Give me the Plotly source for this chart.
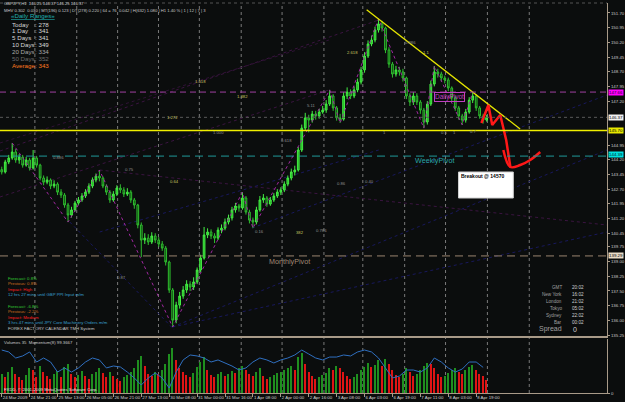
import plotly.graph_objects as go

# ---------------- data ----------------
first_open = 143.70
close = [143.58, 144.09, 144.29, 144.60, 144.19, 144.34, 143.93, 144.19, 143.78, 144.29,
         143.93, 143.27, 143.06, 143.17, 142.86, 142.96, 142.55, 142.40, 141.89, 141.38,
         141.64, 141.99, 142.15, 142.35, 142.55, 142.86, 143.17, 143.37, 143.27, 142.86,
         142.55, 142.15, 142.45, 142.76, 142.66, 142.45, 142.55, 142.15, 141.89, 140.87,
         140.10, 140.20, 140.00, 140.31, 140.10, 139.90, 139.69, 138.98, 137.55, 136.01,
         136.78, 137.24, 137.55, 137.85, 137.70, 137.96, 138.57, 139.18, 140.36, 140.51,
         140.31, 140.20, 140.61, 140.71, 141.02, 141.23, 141.64, 141.84, 141.74, 142.25,
         141.53, 141.12, 141.02, 141.64, 142.15, 142.25, 141.94, 142.15, 142.35, 142.55,
         142.66, 142.96, 143.27, 143.58, 143.68, 144.70, 145.82, 146.34, 146.23, 146.54,
         146.44, 146.64, 146.74, 147.05, 147.46, 146.85, 146.34, 146.28, 147.46, 147.66,
         147.46, 147.77, 148.17, 148.79, 149.50, 150.12, 150.32, 150.83, 151.14, 150.93,
         149.81, 149.09, 148.58, 148.79, 148.69, 148.38, 147.46, 147.15, 147.46, 147.15,
         146.74, 146.13, 147.05, 148.07, 148.69, 148.58, 148.38, 148.28, 147.87, 147.36,
         146.85, 146.44, 146.23, 146.64, 147.25, 147.46, 146.85, 146.44, 146.23, 146.37]
high = [143.85, 144.20, 144.45, 145.06, 144.75, 144.50, 144.45, 144.35, 144.30, 144.70,
        144.40, 144.00, 143.40, 143.35, 143.25, 143.15, 143.05, 142.70, 142.50, 142.00,
        141.80, 142.10, 142.30, 142.50, 142.70, 143.00, 143.30, 143.50, 143.68, 143.35,
        142.95, 142.65, 142.60, 142.90, 142.95, 142.80, 142.75, 142.65, 142.25, 141.95,
        141.00, 140.45, 140.40, 140.50, 140.45, 140.25, 140.05, 139.80, 139.05, 137.65,
        136.95, 137.45, 137.75, 138.05, 138.00, 138.20, 138.70, 139.35, 140.77, 140.70,
        140.65, 140.45, 140.75, 140.90, 141.20, 141.40, 141.80, 142.00, 141.95, 142.55,
        142.35, 141.65, 141.25, 141.80, 142.35, 142.45, 142.35, 142.30, 142.50, 142.70,
        142.80, 143.10, 143.40, 143.75, 143.90, 144.85, 146.00, 146.60, 146.50, 146.70,
        146.70, 146.80, 146.95, 147.25, 147.77, 147.55, 146.95, 146.55, 147.65, 147.90,
        147.80, 147.95, 148.35, 148.95, 149.70, 150.30, 150.55, 151.00, 151.40, 151.30,
        151.00, 149.95, 149.20, 149.00, 148.95, 148.85, 148.45, 147.60, 147.65, 147.60,
        147.25, 146.85, 147.20, 148.25, 148.99, 148.85, 148.70, 148.50, 148.40, 147.95,
        147.45, 146.95, 146.55, 146.80, 147.40, 147.66, 147.55, 146.95, 146.55, 146.50]
low = [143.45, 143.50, 143.98, 144.20, 144.05, 144.00, 143.80, 143.85, 143.65, 143.70,
       143.80, 143.15, 142.90, 142.95, 142.70, 142.75, 142.40, 142.25, 141.75, 141.02,
       141.25, 141.55, 141.90, 142.05, 142.25, 142.45, 142.75, 143.05, 143.10, 142.75,
       142.40, 142.00, 142.05, 142.35, 142.50, 142.30, 142.35, 142.00, 141.70, 140.70,
       139.23, 139.90, 139.85, 139.90, 139.95, 139.75, 139.55, 138.80, 137.40, 135.66,
       135.85, 136.60, 137.10, 137.40, 137.50, 137.55, 137.85, 138.45, 139.10, 140.20,
       140.15, 139.95, 140.10, 140.45, 140.60, 140.90, 141.10, 141.50, 141.55, 141.65,
       141.40, 140.95, 140.71, 140.90, 141.55, 142.00, 141.80, 141.85, 142.05, 142.25,
       142.40, 142.55, 142.85, 143.15, 143.40, 143.60, 144.60, 145.70, 145.60, 146.10,
       146.25, 146.30, 146.55, 146.60, 146.95, 146.70, 146.20, 146.08, 146.20, 147.30,
       147.30, 147.35, 147.65, 148.05, 148.65, 149.40, 150.00, 150.20, 150.70, 150.75,
       149.65, 148.90, 148.40, 148.45, 148.50, 148.20, 147.30, 146.95, 147.00, 147.00,
       146.55, 145.82, 146.00, 146.95, 147.95, 148.40, 148.20, 148.10, 147.70, 147.20,
       146.70, 146.25, 145.98, 146.10, 146.55, 147.10, 146.70, 146.30, 146.05, 146.15]
volume = [620, 540, 700, 880, 640, 520, 450, 600, 820, 760, 540, 900, 700, 560, 480, 650, 720, 540, 860, 980,
          640, 520, 600, 740, 560, 480, 620, 700, 820, 660, 540, 700, 560, 480, 400, 520, 600, 700, 840, 1100,
          1250, 900, 640, 560, 700, 620, 760, 980, 1300, 1500, 1100, 820, 700, 600, 540, 660, 880, 1050, 1200, 760,
          600, 520, 640, 700, 560, 620, 740, 680, 820, 900, 760, 640, 580, 700, 820, 560, 480, 520, 600, 660,
          700, 760, 820, 900, 760, 1200, 1350, 980, 700, 560, 480, 520, 600, 680, 820, 760, 900, 820, 700, 560,
          480, 540, 620, 760, 880, 1000, 860, 940, 1100, 900, 1150, 980, 760, 600, 520, 640, 820, 700, 560, 620,
          760, 900, 1000, 980, 820, 640, 520, 580, 660, 760, 820, 700, 640, 760, 880, 920, 760, 640, 560, 420]
# Momentum(8), read every second bar
momentum = [100.98, 100.80, 100.24, 100.43, 100.80, 99.87, 100.24, 99.87, 98.94, 99.32,
            98.94, 99.32, 99.87, 100.24, 100.06, 99.32, 99.50, 99.41, 98.94, 98.39,
            97.74, 98.39, 98.85, 98.39, 97.46, 98.94, 100.06, 100.52, 100.43, 100.24,
            99.87, 100.06, 99.78, 99.50, 99.13, 99.32, 99.87, 100.24, 100.06, 99.78,
            100.06, 100.24, 100.52, 100.98, 100.61, 100.24, 100.06, 100.33, 100.33, 100.52,
            100.43, 100.80, 100.98, 100.80, 100.24, 99.32, 98.39, 98.57, 99.13, 99.13,
            98.94, 99.32, 100.24, 99.87, 99.32, 98.94, 99.22, 99.87, 99.87, 99.37]
time_labels = ["24 Mar 2009", "24 Mar 21:00", "25 Mar 13:00", "26 Mar 05:00", "26 Mar 21:00",
               "27 Mar 13:00", "30 Mar 08:00", "31 Mar 00:00", "31 Mar 16:00", "1 Apr 08:00",
               "2 Apr 00:00", "2 Apr 16:00", "3 Apr 08:00", "6 Apr 03:00", "6 Apr 19:00",
               "7 Apr 11:00", "8 Apr 03:00", "8 Apr 19:00"]
price_ticks = [151.70, 150.95, 150.20, 149.45, 148.70, 147.95, 147.20, 144.95, 144.20,
               143.45, 142.70, 141.95, 141.20, 140.45, 139.75, 139.00, 138.25, 137.50, 136.75, 136.00, 135.25]
daily_pivot = 147.66
weekly_pivot = 144.39
monthly_pivot = 139.29
breakout = 145.70
zigzag_bars = [3, 19, 28, 49, 69, 72, 94, 97, 108, 121, 124, 132, 135]
zigzag_kind = ["H", "L", "H", "L", "H", "L", "H", "L", "H", "L", "H", "L", "H"]
proj_bars = [137.5, 139.5, 140.6, 142.9, 144.6, 145.8]
proj_price = [146.08, 147.00, 145.98, 146.49, 145.21, 143.83]
range_labels = ["Today", "1 Day", "5 Days", "10 Days", "20 Days", "50 Days", "Average"]
range_values = [278, 341, 341, 349, 334, 352, 343]

# ---------------- geometry helpers (layout only) ----------------
W, H = 625, 402
ML, MR, MT, MB = 0, 16, 3, 9
PW, PH = W - ML - MR, H - MT - MB
N = len(close)
BARPX = 3.5
XMAX = -0.5 + PW / BARPX
YLO, YHI = 135.20, 152.21


def px(x):
    return (x - ML) / PW


def py(y):
    return 1 - (y - MT) / PH


def bx(x):
    return x / BARPX - 0.5


def yp(y):
    return YHI - (y - 3) * (YHI - YLO) / 333.0


openp = [first_open] + close[:-1]
xs = list(range(N))
BG = "#0b0d0d"
FRAME = "#a89a88"
FONT = "Liberation Sans"

fig = go.Figure()
fig.add_trace(go.Candlestick(
    x=xs, open=openp, high=high, low=low, close=close,
    increasing=dict(line=dict(color="#44ee44", width=1), fillcolor="#22b022"),
    decreasing=dict(line=dict(color="#2fbf2f", width=1), fillcolor="#0c3a0c"),
    whiskerwidth=0, showlegend=False, hoverinfo="skip", xaxis="x", yaxis="y"))

# zigzag
zz_y = [high[b] if k == "H" else low[b] for b, k in zip(zigzag_bars, zigzag_kind)]
fig.add_trace(go.Scatter(x=zigzag_bars, y=zz_y, mode="lines", xaxis="x", yaxis="y",
                         line=dict(color="#a028a0", width=1, dash="dot"), showlegend=False, hoverinfo="skip"))

# trend line through the two lower highs
b1, b2 = 108, 135
slope = (high[b2] - high[b1]) / (b2 - b1)
tx = [104.6, 148.6]
ty = [high[b1] + slope * (t - b1) for t in tx]
fig.add_trace(go.Scatter(x=tx, y=ty, mode="lines", xaxis="x", yaxis="y",
                         line=dict(color="#e6e600", width=1.3), showlegend=False, hoverinfo="skip"))

# hand drawn projection
fig.add_trace(go.Scatter(x=proj_bars, y=proj_price, mode="lines", xaxis="x", yaxis="y",
                         line=dict(color="#ff1818", width=2.5), showlegend=False, hoverinfo="skip"))
fig.add_trace(go.Scatter(x=[bx(505), bx(512), bx(522), bx(532), bx(542)],
                         y=[yp(150), yp(167), yp(165), yp(160), yp(152)], mode="lines",
                         xaxis="x", yaxis="y", line=dict(color="#ff1818", width=2.5, shape="spline"),
                         showlegend=False, hoverinfo="skip"))

# volumes
vcol = ["#1f8f1f" if i == 0 or volume[i] >= volume[i - 1] else "#e01414" for i in range(N)]
fig.add_trace(go.Bar(x=xs, y=volume, marker=dict(color=vcol, line=dict(width=0)), width=0.42,
                     xaxis="x2", yaxis="y2", showlegend=False, hoverinfo="skip"))
fig.add_trace(go.Scatter(x=xs[::2], y=momentum, mode="lines", xaxis="x2", yaxis="y3",
                         line=dict(color="#2f6fc0", width=1), showlegend=False, hoverinfo="skip"))

shapes = []
# vertical dotted grid
for g in [35, 77, 118, 159, 200, 242, 283, 325, 364, 406, 447, 489, 531]:
    shapes.append(dict(type="line", xref="paper", yref="paper", x0=px(g), x1=px(g), y0=0, y1=1,
                       line=dict(color="#7a7a7a", width=1, dash="dot"), layer="below"))
shapes.append(dict(type="line", xref="paper", yref="paper", x0=0, x1=1, y0=1, y1=1,
                   line=dict(color="#555555", width=1, dash="dot")))
# faint channel / pitchfork lines
for (x0, y0, x1, y1, c) in [(0, 151, 380, 20, "#3a1440"), (0, 197, 330, 90, "#3a1440"),
                            (100, 170, 609, 225, "#3a1440"), (0, 143, 330, 40, "#301236"),
                            (173, 327, 609, 150, "#18185c"), (173, 327, 609, 232, "#18185c"),
                            (100, 232, 380, 150, "#18185c"), (70, 222, 175, 330, "#18185c"),
                            (253, 228, 609, 95, "#18185c")]:
    shapes.append(dict(type="line", xref="x", yref="y", x0=bx(x0), x1=bx(x1), y0=yp(y0), y1=yp(y1),
                       line=dict(color=c, width=1, dash="dot"), layer="below"))
# horizontal levels
for lvl, col, dash, wid in [(daily_pivot, "#a040a0", "6px,4px", 1), (close[-1], "#5a5a5a", "dot", 1),
                            (breakout, "#f0f000", "solid", 1.5), (weekly_pivot, "#1f9a9a", "8px,5px", 1),
                            (monthly_pivot, "#9a8470", "8px,5px", 1)]:
    shapes.append(dict(type="line", xref="paper", yref="y", x0=0, x1=1, y0=lvl, y1=lvl,
                       line=dict(color=col, width=wid, dash=dash)))
# breakout note box
shapes.append(dict(type="rect", xref="x", yref="y", x0=bx(460), x1=bx(515), y0=yp(198), y1=yp(172),
                   fillcolor="#ffffff", line=dict(color="#d0d0d0", width=1)))

ann = []


def txt(t, x, y, color, size=4.6, anchor="left", bold=False, **kw):
    if bold:
        t = "<b>" + t + "</b>"
    ann.append(dict(text=t, x=px(x), y=py(y), xref="paper", yref="paper", showarrow=False,
                    xanchor=anchor, yanchor="middle", font=dict(color=color, size=size, family=FONT), **kw))


txt("GBPJPY,H1  146.25 146.37 146.25 146.37", 2, 4, "#d0d0d0", 4.2)
txt("MHV 0.302  0.030 | MT(196) 0.123 | DT(278) 0.220 | 64 = 76  0.042 | H(632) 1.080 | H1 1.40 % | 1 | 12 | 7 | 3",
    2, 10, "#c8c8c8", 4.2)
txt("<u>«Daily Ranges»</u>", 9, 15, "#20b0b0", 6.2)
rcol = ["#d8d8d8", "#d8d8d8", "#d8d8d8", "#d8d8d8", "#a8a8a8", "#6a6a6a", "#ff7a20"]
for k, (lab, val) in enumerate(zip(range_labels, range_values)):
    yy = 24 + k * 6.9
    txt(lab, 10, yy, rcol[k], 6.2)
    txt(": " + str(val), 33, yy, rcol[k], 6.2)

for t, x, y, c in [("1.272", 166, 117, "#c8c860"), ("1.618", 194, 82, "#c8c860"), ("1.382", 236, 96, "#c8c860"),
                   ("1.000", 212, 133, "#909090"), ("0.886", 51, 158, "#909090"), ("0.75", 123, 169, "#909090"),
                   ("0.64", 169, 182, "#c8c860"), ("0.87", 115, 277, "#909090"), ("2.618", 346, 53, "#c8c860"),
                   ("5.11", 306, 106, "#909090"), ("0.618", 280, 140, "#909090"), ("0.86", 336, 183, "#909090"),
                   ("0.40", 364, 182, "#909090"), ("0.16", 254, 231, "#909090"), ("382", 295, 232, "#c8c860"),
                   ("0.786", 315, 230, "#909090"), ("0.886", 404, 43, "#909090"), ("1.1", 422, 53, "#c8c860"),
                   ("1", 382, 133, "#909090"), ("0.5", 440, 133, "#909090"), ("1", 452, 133, "#909090"),
                   ("0.7", 470, 132, "#909090")]:
    txt(t, x, y, c, 4.2)

txt("DailyPivot", 435, 97, "#c040c0", 6.5, bordercolor="#c040c0", borderwidth=1, borderpad=0)
txt("WeeklyPivot", 414, 160, "#2aa8a8", 7.2)
txt("MonthlyPivot", 268, 261, "#a08a74", 7.2)
txt("Breakout @ 14570", 461, 176, "#000000", 5.0, bold=True)

for k, (t, c) in enumerate([("Forecast: 0.8%", "#33cc33"), ("Previous: 0.8%", "#d07020"), ("Impact: High", "#ff2020"),
                            ("12 hrs 27 mins until GBP PPI Input m/m", "#3aa0d0")]):
    txt(t, 6, 278 + k * 5.5, c, 4.3)
for k, (t, c) in enumerate([("Forecast: -6.8%", "#33cc33"), ("Previous: -2.2%", "#d07020"), ("Impact: Medium", "#ff2020"),
                            ("3 hrs 47 mins until JPY Core Machinery Orders m/m", "#3aa0d0"),
                            ("FOREX FACTORY CALENDAR TMH System", "#c8c8c8")]):
    txt(t, 6, 306 + k * 5.5, c, 4.3)

for k, (lab, val) in enumerate([("GMT", "20:02"), ("New York", "16:02"), ("London", "21:02"),
                                ("Tokyo", "05:02"), ("Sydney", "22:02"), ("Bar", "00:02")]):
    txt(lab, 566, 287 + k * 7, "#a0a0a0", 4.6, anchor="right")
    txt(val, 572, 287 + k * 7, "#d0d0d0", 4.6)
txt("Spread", 566, 329, "#a0a0a0", 7.0, anchor="right")
txt("0", 573, 329, "#d0d0d0", 7.0)

txt("Volumes 35  Momentum(8) 99.3667", 2, 342, "#c8c8c8", 4.3)
txt("FXDD, © 2001-2009 MetaQuotes Software Corp.", 2, 389, "#e0e0e0", 4.3)

# right-hand price boxes
for lvl, bg, fg, ys in [(daily_pivot, "#ff00ff", "#200020", 0), (close[-1], "#f0f0f0", "#000000", 0),
                        (breakout, "#e8e800", "#000000", 0), (weekly_pivot, "#00e0e0", "#002020", 1.5),
                        (monthly_pivot, "#e8dcc8", "#000000", 0)]:
    ann.append(dict(text="%.2f" % lvl, x=1, y=lvl, xref="paper", yref="y", showarrow=False, xanchor="left",
                    yanchor="middle", xshift=1, yshift=ys, bgcolor=bg, borderpad=0,
                    font=dict(color=fg, size=4.4, family=FONT)))

main_bottom = (PH - (336 - MT)) / PH
vol_top = (PH - (339 - MT)) / PH

fig.update_layout(
    width=W, height=H, margin=dict(l=ML, r=MR, t=MT, b=MB),
    paper_bgcolor=BG, plot_bgcolor=BG, showlegend=False, bargap=0,
    xaxis=dict(domain=[0, 1], anchor="y", range=[-0.5, XMAX], showticklabels=False, showgrid=False,
               zeroline=False, showline=True, linecolor=FRAME, linewidth=2, ticks="",
               rangeslider=dict(visible=False)),
    yaxis=dict(domain=[main_bottom, 1], anchor="x", side="right", range=[YLO, YHI], tickvals=price_ticks,
               ticktext=["%.2f" % v for v in price_ticks], tickfont=dict(size=4.4, color="#c8c8c8", family=FONT),
               ticks="outside", ticklen=2, tickcolor=FRAME, showline=True, linecolor=FRAME, linewidth=1,
               showgrid=False, zeroline=False),
    xaxis2=dict(domain=[0, 1], anchor="y2", matches="x", range=[-0.5, XMAX], tickvals=list(range(0, N, 8)),
                ticktext=time_labels, ticklabelposition="outside right", tickangle=0, ticks="outside", ticklen=3,
                tickcolor=FRAME, tickfont=dict(size=4.4, color="#d0d0d0", family=FONT),
                showline=True, linecolor=FRAME, linewidth=1, showgrid=False, zeroline=False),
    yaxis2=dict(domain=[0, vol_top], anchor="x2", side="right", range=[0, 1800], tickvals=[0], ticktext=["0"],
                tickfont=dict(size=4.4, color="#c8c8c8", family=FONT), ticks="outside", ticklen=2,
                tickcolor=FRAME, showline=True, linecolor=FRAME, showgrid=False, zeroline=False),
    yaxis3=dict(domain=[0, vol_top], anchor="x2", overlaying="y2", range=[97.0, 102.0], visible=False),
    shapes=shapes, annotations=ann,
)

fig.write_html("out.html")
